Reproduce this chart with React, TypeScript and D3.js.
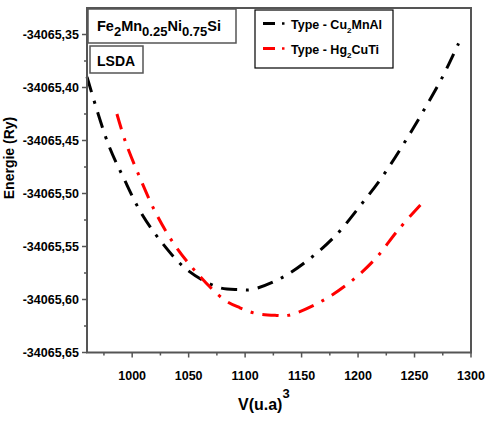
import React from "react";
import * as d3 from "d3";

// Volume (u.a)^3 and total energy (Ry) for the Cu2MnAl-type structure
const cuVolume = [960, 978.6, 992.7, 1007.8, 1026.1, 1048.2, 1076.2, 1095, 1105.8, 1132.3, 1157.3, 1181, 1201, 1221.6, 1240, 1257, 1274, 1289];
const cuEnergy = [-34065.39, -34065.4528, -34065.486, -34065.518, -34065.546, -34065.5716, -34065.5885, -34065.5906, -34065.5906, -34065.5796, -34065.5615, -34065.5387, -34065.5128, -34065.484, -34065.4538, -34065.4237, -34065.3916, -34065.3584];

// Volume and total energy for the Hg2CuTi-type structure
const hgVolume = [986.5, 994.2, 1006.9, 1020.8, 1037.3, 1057.1, 1081.2, 1095.4, 1109.3, 1127.9, 1138.1, 1166.2, 1192.1, 1214.8, 1235.5, 1256.1];
const hgEnergy = [-34065.425, -34065.4516, -34065.4853, -34065.5181, -34065.548, -34065.5747, -34065.6, -34065.6078, -34065.6131, -34065.615, -34065.615, -34065.6025, -34065.5843, -34065.5622, -34065.5344, -34065.5097];

const xTicks = [1000, 1050, 1100, 1150, 1200, 1250, 1300];
const xMinorTicks = [975, 1025, 1075, 1125, 1175, 1225, 1275];
const yTicks = [-34065.35, -34065.4, -34065.45, -34065.5, -34065.55, -34065.6, -34065.65];
const yMinorTicks = [-34065.375, -34065.425, -34065.475, -34065.525, -34065.575, -34065.625];

const W = 485;
const H = 421;
const left = 87;
const right = 471;
const top = 8;
const bottom = 352.5;

const FONT = "'Liberation Sans', Arial, sans-serif";
const AXIS = "#555";
const DASH = "16,9,3,9";

export default function App() {
  const x = d3.scaleLinear().domain([960, 1300]).range([left, right]);
  const y = d3.scaleLinear().domain([-34065.65, -34065.325]).range([bottom, top]);

  const line = d3
    .line<[number, number]>()
    .x((d) => x(d[0]))
    .y((d) => y(d[1]))
    .curve(d3.curveCatmullRom.alpha(0.5));

  const cuPts = cuVolume.map((v, i) => [v, cuEnergy[i]] as [number, number]);
  const hgPts = hgVolume.map((v, i) => [v, hgEnergy[i]] as [number, number]);

  const fmtY = (v: number) => v.toFixed(2).replace(".", ",");

  return (
    <svg
      width={W}
      height={H}
      style={{ position: "absolute", left: 0, top: 0, background: "#fff" }}
      fontFamily={FONT}
      fontWeight="bold"
    >
      <rect x={0} y={0} width={W} height={H} fill="#fff" />

      {/* curves */}
      <path d={line(cuPts) ?? ""} fill="none" stroke="#000" strokeWidth={3} strokeDasharray={DASH} />
      <path d={line(hgPts) ?? ""} fill="none" stroke="#ff0000" strokeWidth={3} strokeDasharray={DASH} />

      {/* frame */}
      <rect x={left} y={top} width={right - left} height={bottom - top} fill="none" stroke={AXIS} strokeWidth={2} />

      {/* x axis ticks */}
      {xTicks.map((t) => (
        <g key={"xt" + t}>
          <line x1={x(t)} x2={x(t)} y1={bottom} y2={bottom + 5} stroke={AXIS} strokeWidth={1.5} />
          <text x={x(t)} y={bottom + 27} textAnchor="middle" fontSize={12.5} fill="#000">
            {t}
          </text>
        </g>
      ))}
      {xMinorTicks.map((t) => (
        <line key={"xm" + t} x1={x(t)} x2={x(t)} y1={bottom} y2={bottom + 3} stroke={AXIS} strokeWidth={1.5} />
      ))}

      {/* y axis ticks */}
      {yTicks.map((t) => (
        <g key={"yt" + t}>
          <line x1={left - 5} x2={left} y1={y(t)} y2={y(t)} stroke={AXIS} strokeWidth={1.5} />
          <text x={left - 8} y={y(t) + 4.5} textAnchor="end" fontSize={12.5} fill="#000">
            {fmtY(t)}
          </text>
        </g>
      ))}
      {yMinorTicks.map((t) => (
        <line key={"ym" + t} x1={left - 3} x2={left} y1={y(t)} y2={y(t)} stroke={AXIS} strokeWidth={1.5} />
      ))}

      {/* axis titles */}
      <text
        transform={`translate(13.5, 158) rotate(-90)`}
        textAnchor="middle"
        fontSize={14}
        fill="#000"
      >
        Energie (Ry)
      </text>
      <text x={238} y={410} fontSize={16} fill="#000">
        V(u.a)
        <tspan dy={-12} fontSize={13}>3</tspan>
      </text>

      {/* compound label */}
      <rect x={88} y={9} width={148} height={34} fill="#fff" stroke={AXIS} strokeWidth={1.5} />
      <text x={97} y={31} fontSize={14.5} fill="#000">
        Fe
        <tspan dy={5} fontSize={13}>2</tspan>
        <tspan dy={-5}>Mn</tspan>
        <tspan dy={5} fontSize={13}>0.25</tspan>
        <tspan dy={-5}>Ni</tspan>
        <tspan dy={5} fontSize={13}>0.75</tspan>
        <tspan dy={-5}>Si</tspan>
      </text>

      <rect x={90} y={46} width={53} height={27} fill="#fff" stroke={AXIS} strokeWidth={1.5} />
      <text x={97} y={66} fontSize={14} fill="#000">
        LSDA
      </text>

      {/* legend */}
      <rect x={255} y={10} width={138} height={58} fill="#fff" stroke="#000" strokeWidth={1.2} />
      {[
        { color: "#000", label: ["Type - Cu", "2", "MnAl"], yy: 23.5 },
        { color: "#ff0000", label: ["Type - Hg", "2", "CuTi"], yy: 48.5 },
      ].map((d) => (
        <g key={d.label[0]}>
          <line x1={263} x2={275} y1={d.yy} y2={d.yy} stroke={d.color} strokeWidth={3} />
          <line x1={282} x2={284.5} y1={d.yy} y2={d.yy} stroke={d.color} strokeWidth={2.5} />
          <text x={291} y={d.yy + 5} fontSize={12.5} fill="#000">
            {d.label[0]}
            <tspan dy={4} fontSize={8}>{d.label[1]}</tspan>
            <tspan dy={-4}>{d.label[2]}</tspan>
          </text>
        </g>
      ))}
    </svg>
  );
}
